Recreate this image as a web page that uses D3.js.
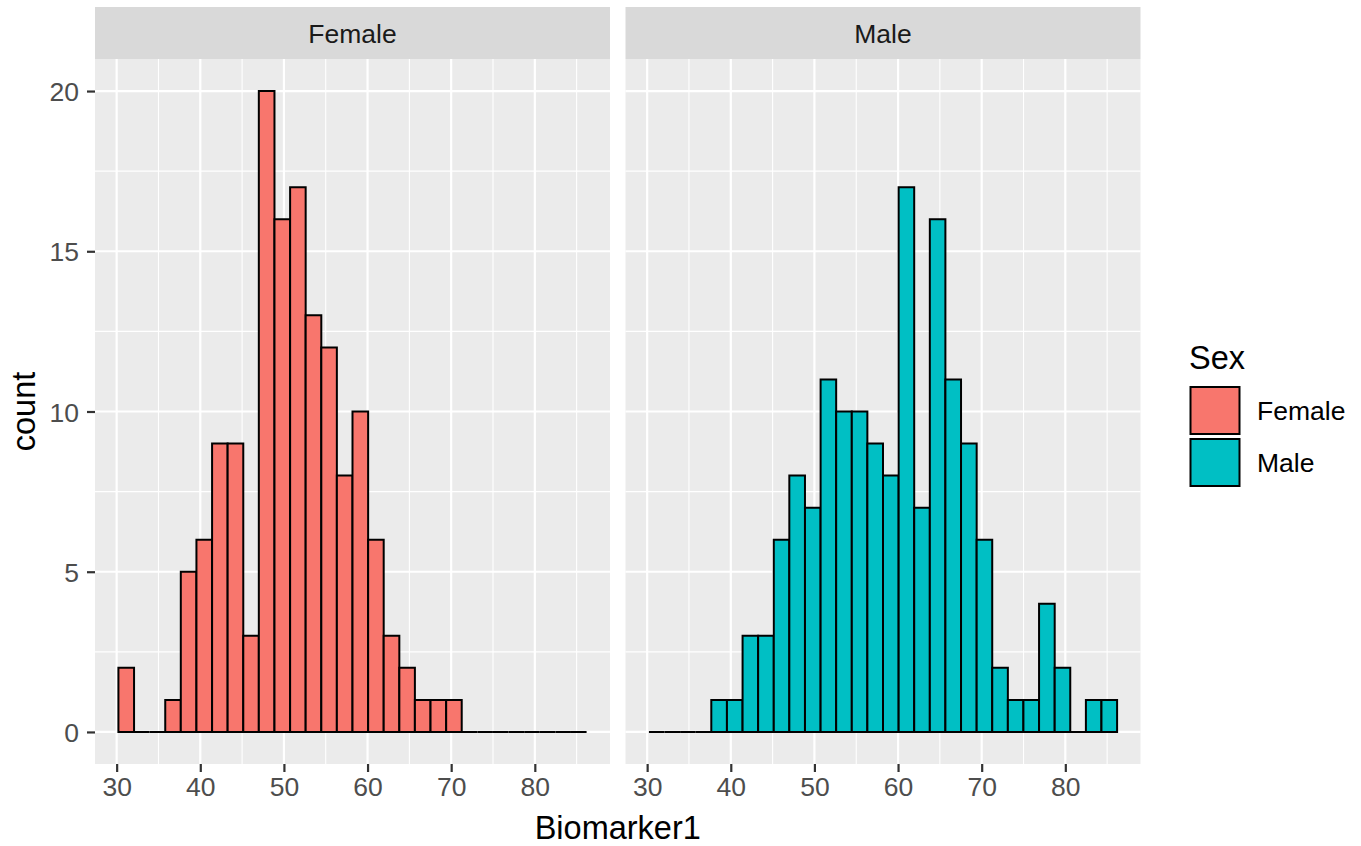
<!DOCTYPE html>
<html><head><meta charset="utf-8">
<script src="https://cdn.jsdelivr.net/npm/d3@7"></script>
<style>body{margin:0;background:#fff}svg{display:block}</style>
</head><body>
<svg id="c" width="1361" height="846"></svg>
<script>
const facets = ["Female", "Male"];
const binEdges = [30.21, 32.08, 33.94, 35.81, 37.67, 39.54, 41.41, 43.27, 45.14, 47.00, 48.87,
  50.74, 52.60, 54.47, 56.33, 58.20, 60.07, 61.93, 63.80, 65.66, 67.53, 69.40, 71.26, 73.13,
  74.99, 76.86, 78.73, 80.59, 82.46, 84.32, 86.19];
const femaleCounts = [2,0,0,1,5,6,9,9,3,20,16,17,13,12,8,10,6,3,2,1,1,1,0,0,0,0,0,0,0,0];
const maleCounts   = [0,0,0,0,1,1,3,3,6,8,7,11,10,10,9,8,17,7,16,11,9,6,2,1,1,4,2,0,1,1];
const xTicks = [30, 40, 50, 60, 70, 80];
const xMinor = [35, 45, 55, 65, 75, 85];
const yTicks = [0, 5, 10, 15, 20];
const yMinor = [2.5, 7.5, 12.5, 17.5];
const fillColors = ["#F8766D", "#00BFC4"];
const countsBySex = [femaleCounts, maleCounts];

const svg = d3.select("#c");
const FONT = "'Liberation Sans', Arial, Helvetica, sans-serif";
const panelTop = 59, panelBottom = 764, stripTop = 7;
const panelX = [[95, 610], [625.5, 1140.5]];

const xr = binEdges[binEdges.length - 1] - binEdges[0];
const xDomain = [binEdges[0] - 0.05 * xr, binEdges[binEdges.length - 1] + 0.05 * xr];
const yMax = d3.max(countsBySex.flat());
const y = d3.scaleLinear().domain([-0.05 * yMax, yMax * 1.05]).range([panelBottom, panelTop]);

facets.forEach((f, i) => {
  const [x0, x1] = panelX[i];
  const x = d3.scaleLinear().domain(xDomain).range([x0, x1]);
  const g = svg.append("g");
  // strip
  g.append("rect").attr("x", x0).attr("y", stripTop).attr("width", x1 - x0)
    .attr("height", panelTop - stripTop).attr("fill", "#D9D9D9");
  g.append("text").attr("x", (x0 + x1) / 2).attr("y", 42.5).attr("text-anchor", "middle")
    .attr("font-family", FONT).attr("font-size", 26.5).attr("fill", "#1A1A1A").text(f);
  // panel
  g.append("rect").attr("x", x0).attr("y", panelTop).attr("width", x1 - x0)
    .attr("height", panelBottom - panelTop).attr("fill", "#EBEBEB");
  // grid
  g.selectAll(".ymin").data(yMinor).join("line")
    .attr("x1", x0).attr("x2", x1).attr("y1", d => y(d)).attr("y2", d => y(d))
    .attr("stroke", "#fff").attr("stroke-width", 1.1);
  g.selectAll(".xmin").data(xMinor).join("line")
    .attr("y1", panelTop).attr("y2", panelBottom).attr("x1", d => x(d)).attr("x2", d => x(d))
    .attr("stroke", "#fff").attr("stroke-width", 1.1);
  g.selectAll(".ymaj").data(yTicks).join("line")
    .attr("x1", x0).attr("x2", x1).attr("y1", d => y(d)).attr("y2", d => y(d))
    .attr("stroke", "#fff").attr("stroke-width", 2.2);
  g.selectAll(".xmaj").data(xTicks).join("line")
    .attr("y1", panelTop).attr("y2", panelBottom).attr("x1", d => x(d)).attr("x2", d => x(d))
    .attr("stroke", "#fff").attr("stroke-width", 2.2);
  // bars (paths so that empty bins still draw their outline at zero)
  const bins = countsBySex[i].map((c, k) => ({x0: binEdges[k], x1: binEdges[k + 1], c}));
  g.selectAll(".bar").data(bins).join("path")
    .attr("d", d => `M${x(d.x0)},${y(0)}V${y(d.c)}H${x(d.x1)}V${y(0)}Z`)
    .attr("fill", fillColors[i]).attr("stroke", "#000").attr("stroke-width", 2)
    .attr("stroke-linejoin", "miter");
  // x axis
  const ax = g.append("g").attr("transform", `translate(0,${panelBottom})`)
    .call(d3.axisBottom(x).tickValues(xTicks).tickSize(8).tickPadding(5).tickFormat(d3.format("d")));
  ax.select(".domain").remove();
  ax.selectAll("line").attr("stroke", "#333").attr("stroke-width", 2.2);
  ax.selectAll("text").attr("font-family", FONT).attr("font-size", 26.5).attr("fill", "#4D4D4D")
    .attr("dy", "0.71em");
  if (i === 0) {
    const ay = g.append("g").attr("transform", `translate(${x0},0)`)
      .call(d3.axisLeft(y).tickValues(yTicks).tickSize(8).tickPadding(8).tickFormat(d3.format("d")));
    ay.select(".domain").remove();
    ay.selectAll("line").attr("stroke", "#333").attr("stroke-width", 2.2);
    ay.selectAll("text").attr("font-family", FONT).attr("font-size", 26.5).attr("fill", "#4D4D4D")
      .attr("dy", "0.36em");
  }
});

// axis titles
svg.append("text").attr("x", (panelX[0][0] + panelX[1][1]) / 2).attr("y", 839)
  .attr("text-anchor", "middle").attr("font-family", FONT).attr("font-size", 32.5).attr("fill", "#000")
  .text("Biomarker1");
svg.append("text").attr("transform", `translate(35,${(panelTop + panelBottom) / 2}) rotate(-90)`)
  .attr("text-anchor", "middle").attr("font-family", FONT).attr("font-size", 32.5).attr("fill", "#000")
  .text("count");

// legend
const lg = svg.append("g");
lg.append("text").attr("x", 1189).attr("y", 369).attr("font-family", FONT).attr("font-size", 32.5)
  .attr("fill", "#000").text("Sex");
facets.forEach((f, i) => {
  const top = 387 + i * 52;
  lg.append("rect").attr("x", 1190.5).attr("y", top).attr("width", 49).attr("height", 47)
    .attr("fill", fillColors[i]).attr("stroke", "#000").attr("stroke-width", 2);
  lg.append("text").attr("x", 1257).attr("y", top + 23.5).attr("dy", "0.36em")
    .attr("font-family", FONT).attr("font-size", 26.5).attr("fill", "#000").text(f);
});
</script>
</body></html>
